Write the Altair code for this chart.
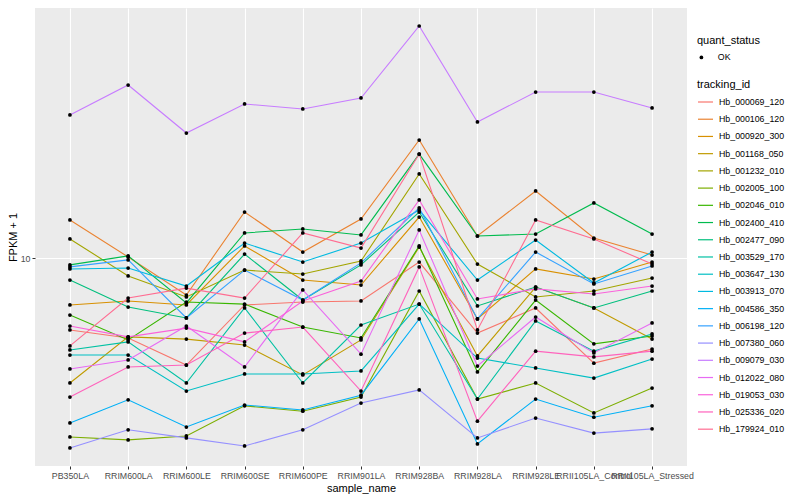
import altair as alt
import pandas as pd

samples = ["PB350LA", "RRIM600LA", "RRIM600LE", "RRIM600SE", "RRIM600PE", "RRIM901LA",
           "RRIM928BA", "RRIM928LA", "RRIM928LE", "RRII105LA_Control", "RRII105LA_Stressed"]

ids = ["Hb_000069_120", "Hb_000106_120", "Hb_000920_300", "Hb_001168_050", "Hb_001232_010",
       "Hb_002005_100", "Hb_002046_010", "Hb_002400_410", "Hb_002477_090", "Hb_003529_170",
       "Hb_003647_130", "Hb_003913_070", "Hb_004586_350", "Hb_006198_120", "Hb_007380_060",
       "Hb_009079_030", "Hb_012022_080", "Hb_019053_030", "Hb_025336_020", "Hb_179924_010"]

colors = ["#F8766D", "#EA8331", "#D89000", "#C09B00", "#A3A500", "#7CAE00", "#39B600",
          "#00BB4E", "#00BF7D", "#00C1A3", "#00BFC4", "#00BAE0", "#00B0F6", "#35A2FF",
          "#9590FF", "#C77CFF", "#E76BF3", "#FA62DB", "#FF62BC", "#FF6C91"]

# FPKM + 1 per sample, one list per tracking_id
hb_000069_120 = [6.61, 6.31, 5.40, 7.63, 7.76, 7.81, 9.77, 6.49, 7.50, 5.46, 5.92]
hb_000106_120 = [12.45, 10.06, 8.08, 13.03, 10.35, 12.52, 19.72, 11.35, 14.71, 11.22, 10.17]
hb_000920_300 = [7.63, 7.81, 7.63, 10.72, 8.81, 8.56, 12.66, 7.04, 9.39, 8.86, 9.77]
hb_001168_050 = [4.87, 6.35, 6.27, 6.06, 5.10, 6.24, 10.65, 5.69, 8.46, 7.50, 6.27]
hb_001232_010 = [11.16, 9.02, 7.99, 9.33, 9.12, 9.83, 16.22, 9.66, 7.99, 8.27, 8.91]
hb_002005_100 = [3.57, 3.51, 3.59, 4.27, 4.14, 4.49, 8.27, 4.44, 4.87, 4.10, 4.73]
hb_002046_010 = [7.20, 6.24, 7.76, 7.67, 6.72, 6.31, 10.72, 5.19, 7.85, 6.10, 6.38]
hb_002400_410 = [9.61, 10.12, 7.72, 11.55, 11.82, 11.42, 18.19, 11.35, 11.48, 13.73, 11.48]
hb_002477_090 = [8.81, 7.54, 7.08, 10.23, 7.85, 9.61, 13.03, 7.59, 8.46, 7.50, 8.27]
hb_003529_170 = [5.89, 6.17, 4.87, 7.50, 4.87, 6.80, 7.67, 4.44, 6.96, 5.85, 6.46]
hb_003647_130 = [5.72, 5.72, 4.65, 5.13, 5.13, 5.22, 7.67, 5.62, 5.31, 5.01, 5.59]
hb_003913_070 = [9.39, 9.44, 8.51, 10.90, 9.77, 10.90, 13.18, 8.81, 11.09, 8.66, 10.35]
hb_004586_350 = [3.87, 4.42, 3.78, 4.29, 4.17, 4.54, 7.04, 3.43, 4.44, 4.00, 4.27]
hb_006198_120 = [9.50, 9.89, 7.08, 9.33, 7.85, 9.72, 13.34, 7.04, 10.35, 8.61, 9.55]
hb_007380_060 = [3.35, 3.72, 3.55, 3.39, 3.72, 4.34, 4.68, 3.55, 3.98, 3.65, 3.74]
hb_009079_030 = [22.78, 27.07, 20.53, 24.27, 23.58, 25.12, 38.02, 21.88, 26.00, 26.00, 23.72]
hb_012022_080 = [5.28, 5.56, 6.76, 5.34, 8.32, 5.75, 11.75, 5.37, 7.12, 5.79, 6.88]
hb_019053_030 = [6.76, 6.35, 6.68, 6.17, 7.81, 8.76, 13.97, 7.90, 8.37, 8.13, 8.51]
hb_025336_020 = [4.49, 5.34, 5.40, 6.49, 6.72, 4.65, 9.50, 3.91, 5.85, 5.66, 5.85]
hb_179924_010 = [6.03, 7.94, 8.41, 7.94, 11.55, 10.59, 18.19, 6.61, 12.45, 11.16, 9.66]

series = [hb_000069_120, hb_000106_120, hb_000920_300, hb_001168_050, hb_001232_010,
          hb_002005_100, hb_002046_010, hb_002400_410, hb_002477_090, hb_003529_170,
          hb_003647_130, hb_003913_070, hb_004586_350, hb_006198_120, hb_007380_060,
          hb_009079_030, hb_012022_080, hb_019053_030, hb_025336_020, hb_179924_010]

rows = []
for tid, vals in zip(ids, series):
    for s, v in zip(samples, vals):
        rows.append({"tracking_id": tid, "sample_name": s, "fpkm": v, "quant_status": "OK"})
df = pd.DataFrame(rows)

FONT = "Liberation Sans"

x_enc = alt.X("sample_name:N", sort=samples,
              scale=alt.Scale(type="point", padding=0.6),
              axis=alt.Axis(title="sample_name", labelAngle=0, labelOverlap=False,
                            labelFontSize=8.8, labelColor="#4D4D4D", labelPadding=2,
                            tickColor="#333333", tickSize=3, domain=False,
                            grid=True, gridColor="white", gridWidth=1.1,
                            titleFontSize=11, titleFontWeight="normal", titleColor="black",
                            titlePadding=3, labelFont=FONT, titleFont=FONT))
y_enc = alt.Y("fpkm:Q",
              scale=alt.Scale(type="log", domain=[3.02, 42.17], nice=False),
              axis=alt.Axis(title="FPKM + 1", values=[10], format="d",
                            labelFontSize=8.8, labelColor="#4D4D4D", labelPadding=2,
                            tickColor="#333333", tickSize=3, domain=False,
                            grid=True, gridColor="white", gridWidth=1.1,
                            titleFontSize=11, titleFontWeight="normal", titleColor="black",
                            titlePadding=1.5, labelFont=FONT, titleFont=FONT))

base = alt.Chart(df).encode(x=x_enc, y=y_enc)

lines = base.mark_line(strokeWidth=1.1).encode(
    color=alt.Color("tracking_id:N", scale=alt.Scale(domain=ids, range=colors),
                    legend=alt.Legend(title="tracking_id", orient="none", legendX=662, legendY=71,
                                      symbolType="stroke", symbolSize=225, symbolStrokeWidth=1.2,
                                      rowPadding=3.22, titlePadding=3.5, labelOffset=5,
                                      labelFontSize=8.8, labelColor="black", labelFont=FONT,
                                      titleFontSize=11, titleFontWeight="normal", titleColor="black",
                                      titleFont=FONT, padding=0))
)

points = base.mark_point(filled=True, size=14, opacity=1, color="black").encode(
    shape=alt.Shape("quant_status:N", scale=alt.Scale(domain=["OK"], range=["circle"]),
                    legend=alt.Legend(title="quant_status", orient="none", legendX=662, legendY=27,
                                      symbolSize=14, symbolFillColor="black", symbolStrokeColor="black",
                                      titlePadding=7, labelOffset=12, labelFontSize=8.8,
                                      labelColor="black", labelFont=FONT,
                                      titleFontSize=11, titleFontWeight="normal", titleColor="black",
                                      titleFont=FONT, padding=0))
)

chart = alt.layer(lines, points).properties(
    width=652, height=458,
    autosize=alt.AutoSizeParams(type="none"),
    padding={"left": 27, "top": 0, "right": 105, "bottom": 30},
    background="white"
).configure_view(fill="#EBEBEB", stroke=None).configure_legend(orient="none")

chart.save("out.html", embed_options={"renderer": "svg", "actions": False})
